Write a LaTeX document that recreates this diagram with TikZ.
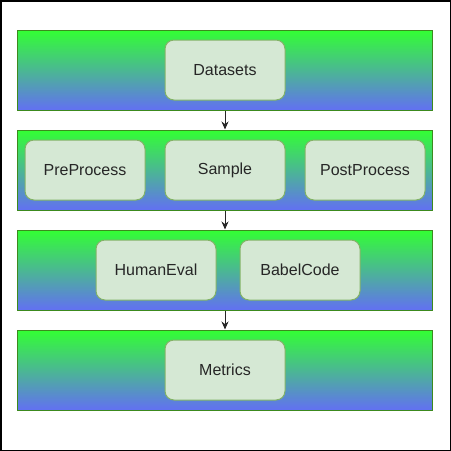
\documentclass[tikz,border=0pt]{standalone}
\usepackage{fontspec}
\setmainfont{Liberation Sans}
\usetikzlibrary{arrows.meta}
\definecolor{bandtop}{HTML}{33FF33}
\definecolor{bandbot}{HTML}{6270F2}
\definecolor{bandline}{HTML}{3C8A1E}
\definecolor{boxfill}{HTML}{D5E8D4}
\definecolor{boxline}{HTML}{82B366}
\tikzset{
  band/.style={rectangle, draw=bandline, line width=1pt, top color=bandtop, bottom color=bandbot, minimum width=415pt, minimum height=80pt, inner sep=0pt},
  item/.style={rectangle, rounded corners=9pt, draw=boxline, line width=1pt, fill=boxfill, minimum width=120pt, minimum height=60pt, inner sep=0pt, font=\fontsize{16pt}{19pt}\selectfont, text=black!85},
  flow/.style={line width=1pt, draw=black!85, -{Stealth[length=8pt,width=7pt]}}
}
\begin{document}
\begin{tikzpicture}[x=1pt,y=-1pt]
\useasboundingbox (0,0) rectangle (451,451);
\draw[line width=1.5pt] (0.75,0.75) rectangle (450.25,450.25);
\node[band] (b1) at (225,70) {};
\node[band] (b2) at (225,170) {};
\node[band] (b3) at (225,270) {};
\node[band] (b4) at (225,370) {};
\node[item] (ds) at (225,70) {Datasets};
\node[item] (pre) at (85,170) {PreProcess};
\node[item] (smp) at (225,170) {Sample};
\node[item] (post) at (365,170) {PostProcess};
\node[item] (he) at (156,270) {HumanEval};
\node[item] (bc) at (300,270) {BabelCode};
\node[item] (met) at (225,370) {Metrics};
\draw[flow] (b1.south) -- (b2.north);
\draw[flow] (b2.south) -- (b3.north);
\draw[flow] (b3.south) -- (b4.north);
\end{tikzpicture}
\end{document}
